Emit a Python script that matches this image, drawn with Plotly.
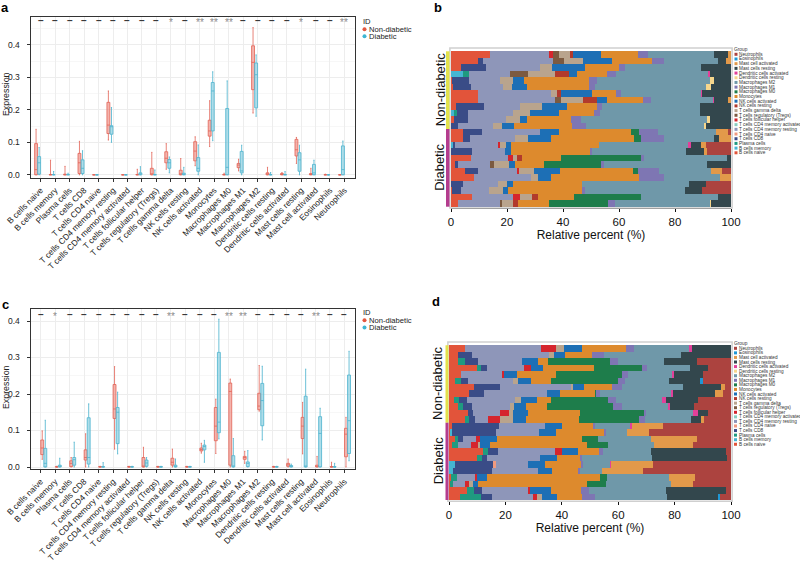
import plotly.graph_objects as go

W, H = 800, 562

# ---------------- categories ----------------
CELL_TYPES = ["B cells naive", "B cells memory", "Plasma cells", "T cells CD8", "T cells CD4 naive",
              "T cells CD4 memory resting", "T cells CD4 memory activated", "T cells follicular helper",
              "T cells regulatory (Tregs)", "T cells gamma delta", "NK cells resting", "NK cells activated",
              "Monocytes", "Macrophages M0", "Macrophages M1", "Macrophages M2", "Dendritic cells resting",
              "Dendritic cells activated", "Mast cells resting", "Mast cell activated", "Eosinophils",
              "Neutrophils"]
GROUPS = ["Non-diabetic", "Diabetic"]

# ---------------- panel a : box statistics ----------------
a_nd_q1 = [0.0, 0, 0, 0.004, 0, 0.127, 0, 0, 0, 0.037, 0, 0.043, 0.119, 0, 0.022, 0.262, 0, 0, 0.058, 0, 0, 0]
a_nd_med = [0.016, 0, 0, 0.037, 0, 0.153, 0, 0, 0.002, 0.051, 0.002, 0.073, 0.135, 0, 0.030, 0.346, 0.002, 0.001, 0.077, 0.001, 0, 0]
a_nd_q3 = [0.096, 0.001, 0.002, 0.066, 0, 0.223, 0, 0.001, 0.020, 0.071, 0.014, 0.102, 0.168, 0.001, 0.035, 0.397, 0.006, 0.004, 0.109, 0.004, 0, 0]
a_nd_lo = [0, 0, 0, 0, 0, 0.107, 0, 0, 0, 0.017, 0, 0.028, 0.087, 0, 0.012, 0.190, 0, 0, 0.035, 0, 0, 0]
a_nd_hi = [0.140, 0.045, 0.026, 0.103, 0, 0.258, 0, 0.017, 0.069, 0.096, 0.050, 0.117, 0.228, 0.005, 0.048, 0.453, 0.023, 0.007, 0.115, 0.020, 0.002, 0]

a_d_q1 = [0.002, 0, 0, 0.004, 0, 0.125, 0, 0, 0, 0.020, 0, 0.011, 0.135, 0, 0.006, 0.206, 0, 0, 0.011, 0, 0, 0]
a_d_med = [0.037, 0, 0, 0.020, 0, 0.148, 0, 0.002, 0, 0.037, 0.001, 0.020, 0.258, 0.023, 0.012, 0.308, 0, 0, 0.046, 0.006, 0, 0.016]
a_d_q3 = [0.056, 0.001, 0.001, 0.046, 0, 0.151, 0, 0.006, 0.001, 0.047, 0.005, 0.053, 0.284, 0.204, 0.072, 0.344, 0.001, 0.001, 0.068, 0.032, 0, 0.089]
a_d_lo = [0, 0, 0, 0, 0, 0.100, 0, 0, 0, 0.006, 0, 0, 0.105, 0, 0, 0.180, 0, 0, 0, 0, 0, 0]
a_d_hi = [0.084, 0.010, 0.005, 0.074, 0, 0.207, 0, 0.025, 0.015, 0.055, 0.023, 0.092, 0.317, 0.289, 0.091, 0.369, 0.007, 0.010, 0.091, 0.045, 0, 0.104]

a_sig = ["–", "–", "–", "–", "–", "–", "–", "–", "–", "*", "–", "**", "**", "**", "–", "–", "–", "–", "*", "–", "–", "**"]

# ---------------- panel c : box statistics ----------------
c_nd_q1 = [0.034, 0, 0.001, 0.019, 0, 0.133, 0, 0, 0, 0.005, 0, 0.044, 0.072, 0.005, 0.021, 0.157, 0, 0.002, 0.078, 0, 0, 0.028]
c_nd_med = [0.052, 0, 0.010, 0.026, 0, 0.159, 0, 0.002, 0, 0.013, 0, 0.048, 0.112, 0.207, 0.026, 0.167, 0, 0.006, 0.112, 0.002, 0, 0.090]
c_nd_q3 = [0.074, 0.001, 0.017, 0.047, 0.001, 0.226, 0.001, 0.026, 0.001, 0.024, 0.001, 0.052, 0.163, 0.230, 0.029, 0.202, 0.001, 0.010, 0.136, 0.005, 0.001, 0.106]
c_nd_lo = [0.021, 0, 0, 0, 0, 0.049, 0, 0, 0, 0, 0, 0.038, 0.037, 0, 0.010, 0.153, 0, 0, 0.036, 0, 0, 0]
c_nd_hi = [0.099, 0.002, 0.026, 0.091, 0.002, 0.275, 0.002, 0.054, 0.002, 0.049, 0.002, 0.065, 0.186, 0.241, 0.043, 0.278, 0.002, 0.022, 0.177, 0.029, 0.013, 0.136]

c_d_q1 = [0, 0, 0.005, 0.008, 0, 0.064, 0, 0.002, 0, 0, 0, 0.047, 0.094, 0, 0.001, 0.113, 0, 0, 0, 0, 0, 0.037]
c_d_med = [0.010, 0.002, 0.020, 0.026, 0, 0.150, 0, 0.011, 0, 0.002, 0, 0.056, 0.123, 0.003, 0.010, 0.182, 0, 0.002, 0.002, 0.092, 0, 0.127]
c_d_q3 = [0.051, 0.005, 0.026, 0.135, 0.001, 0.163, 0.001, 0.019, 0.001, 0.005, 0.001, 0.060, 0.314, 0.031, 0.014, 0.229, 0.001, 0.004, 0.194, 0.138, 0.001, 0.252]
c_d_lo = [0, 0, 0, 0, 0, 0.036, 0, 0, 0, 0, 0, 0.013, 0.077, 0, 0, 0.074, 0, 0, 0, 0, 0, 0.017]
c_d_hi = [0.128, 0.024, 0.068, 0.173, 0.012, 0.205, 0.002, 0.026, 0.002, 0.022, 0.002, 0.073, 0.405, 0.078, 0.045, 0.276, 0.002, 0.008, 0.268, 0.161, 0.010, 0.317]

c_sig = ["–", "*", "–", "–", "–", "–", "–", "–", "–", "**", "–", "–", "–", "**", "**", "–", "–", "–", "–", "**", "–", "–"]

# ---------------- panel b : relative percent per sample (order = CELL_TYPES) ----------------
b_nd_01 = [13.9, 0, 0, 0, 0, 21.1, 0, 1.5, 2.1, 3.8, 1.0, 10.1, 13.3, 0, 3.6, 23.6, 0, 0, 4.8, 1.2, 0, 0]
b_nd_02 = [9.5, 0, 0, 2.0, 0, 25.0, 0, 0, 3.9, 6.8, 0, 10.4, 14.3, 0, 4.3, 19.0, 0, 0, 3.0, 1.8, 0, 0]
b_nd_03 = [3.6, 0, 0, 8.9, 0, 19.3, 0, 0, 0, 4.4, 0, 11.7, 12.1, 0, 2.1, 27.1, 0, 0, 10.8, 0, 0, 0]
b_nd_04 = [0, 4.4, 2.1, 0, 0, 14.5, 0, 0, 6.5, 9.5, 5.0, 3.0, 10.7, 0, 3.1, 33.3, 0, 0.4, 7.5, 0, 0, 0]
b_nd_05 = [0.2, 0, 0, 6.3, 0, 11.0, 0, 0, 0, 4.5, 0, 4.2, 23.1, 0, 2.7, 40.5, 1.5, 0, 6.0, 0, 0, 0]
b_nd_06 = [0.8, 0, 0, 6.3, 0, 11.5, 0, 0, 0, 3.3, 0, 5.4, 21.9, 0, 2.1, 39.9, 1.8, 0, 7.0, 0, 0, 0]
b_nd_07 = [9.5, 0, 0, 0, 0, 26.2, 0, 0, 0, 2.0, 1.5, 11.0, 8.7, 0, 1.7, 28.9, 0, 0.2, 10.3, 0, 0, 0]
b_nd_08 = [9.8, 0, 0, 0, 0, 27.4, 0, 0, 2.1, 7.7, 5.0, 3.8, 12.6, 0, 3.2, 22.0, 0, 0.4, 4.8, 1.2, 0, 0]
b_nd_09 = [1.8, 0, 0, 10.1, 0, 12.7, 0, 0, 0, 8.0, 0, 8.9, 10.5, 0, 2.0, 34.9, 0, 0, 11.1, 0, 0, 0]
b_nd_10 = [0, 1.2, 1.0, 4.0, 0, 16.1, 0, 0, 0, 6.0, 0, 10.1, 12.7, 0, 2.1, 35.7, 0, 0, 11.1, 0, 0, 0]
b_nd_11 = [1.2, 0, 0, 5.0, 0, 13.3, 0, 0, 0, 5.1, 0, 2.7, 15.5, 0, 3.5, 45.0, 1.2, 0, 7.5, 0, 0, 0]
b_nd_12 = [0, 0, 0, 2.6, 0, 12.3, 0, 0, 0, 3.2, 0, 4.4, 20.8, 0, 4.8, 42.6, 0.5, 0, 8.8, 0, 0, 0]
b_d_01 = [4.4, 0, 0, 6.5, 0, 20.8, 0, 0, 0, 0, 0, 6.9, 25.6, 3.0, 6.8, 20.8, 0, 0, 0, 4.0, 0, 1.2]
b_d_02 = [4.4, 0, 0, 2.4, 0, 16.1, 0, 0, 0, 4.5, 0, 8.3, 29.8, 2.4, 8.0, 18.2, 0, 0, 1.7, 4.2, 0, 0]
b_d_03 = [0, 0.8, 0, 0.6, 0, 15.5, 0, 0.6, 0, 2.0, 0, 1.9, 31.4, 0, 0, 31.9, 0, 1.0, 3.6, 1.8, 0, 8.9]
b_d_04 = [0, 0, 0, 7.4, 0, 11.9, 0, 0, 0, 0, 0, 2.1, 28.5, 0, 0.6, 33.3, 0, 0, 6.7, 0.8, 0, 8.7]
b_d_05 = [7.1, 0, 0, 0, 0, 13.1, 0, 2.0, 0, 1.2, 2.0, 0, 13.8, 28.8, 0.8, 29.7, 0, 0, 1.5, 0, 0, 0]
b_d_06 = [1.7, 0, 0, 0.7, 0, 11.5, 0, 0, 1.5, 5.2, 0, 2.1, 10.5, 20.2, 1.2, 36.7, 0, 0, 8.7, 0, 0, 0]
b_d_07 = [5.0, 0, 0, 4.5, 0, 14.3, 0, 0.5, 0, 5.5, 0, 9.2, 26.0, 1.8, 7.6, 18.3, 0, 0, 0, 4.2, 0, 3.1]
b_d_08 = [8.3, 0, 0, 0, 0, 20.2, 0, 0, 0, 2.6, 0, 4.5, 31.5, 0, 8.9, 20.1, 0, 0, 0, 3.9, 0, 0]
b_d_09 = [0, 0, 0, 4.4, 0, 12.5, 0, 0, 0, 3.2, 0, 1.9, 24.9, 0, 0, 38.1, 0, 0, 6.0, 0, 0, 9.0]
b_d_10 = [0.5, 0, 0, 3.1, 0, 10.1, 0, 0, 0, 4.8, 0, 1.7, 26.5, 0, 1.0, 35.7, 0, 0, 6.4, 0, 0, 10.2]
b_d_11 = [7.4, 0, 0, 0, 0, 14.9, 0, 2.4, 0, 4.4, 1.9, 0, 13.1, 23.8, 0, 27.6, 0, 0, 4.5, 0, 0, 0]
b_d_12 = [2.6, 0, 0, 0, 0, 14.9, 0, 0, 0.8, 3.9, 1.8, 0, 11.0, 21.0, 2.5, 34.0, 0.5, 0, 7.0, 0, 0, 0]

# ---------------- panel d : relative percent per sample ----------------
d_nd_01 = [5.7, 0, 0, 0, 0, 26.9, 0, 5.3, 0, 3.0, 0, 6.1, 15.7, 0, 3.0, 19.7, 0, 0.6, 14.0, 0, 0, 0]
d_nd_02 = [3.1, 0, 0, 5.0, 0, 27.4, 0, 0, 0, 1.8, 0, 3.7, 9.7, 0, 4.1, 27.5, 0, 0, 17.7, 0, 0, 0]
d_nd_03 = [3.3, 0, 2.4, 4.5, 0, 15.8, 0, 0, 0, 0, 0, 5.7, 3.5, 21.9, 3.0, 16.0, 0, 0, 11.8, 0, 0, 12.1]
d_nd_04 = [9.8, 0, 1.4, 2.1, 0, 13.2, 0, 2.4, 0, 0, 0, 4.3, 18.3, 16.8, 1.8, 15.4, 0, 0, 6.5, 0, 0, 8.0]
d_nd_05 = [4.3, 0, 0, 0, 0, 14.7, 0, 0.6, 0, 0, 0, 4.5, 13.8, 23.4, 2.1, 15.6, 0, 0.9, 10.3, 0, 0, 9.8]
d_nd_06 = [2.1, 0, 2.1, 2.4, 0, 16.2, 0, 0, 0, 1.5, 0, 4.7, 7.3, 23.6, 2.4, 15.6, 0, 0, 11.2, 0, 0.9, 10.0]
d_nd_07 = [9.0, 0, 0, 9.1, 0, 25.4, 0, 0, 0, 0.6, 0, 3.9, 9.7, 0, 3.8, 21.6, 0, 0, 13.4, 1.4, 0, 2.1]
d_nd_08 = [7.1, 0, 0, 5.4, 0, 22.1, 0, 0, 0, 0, 0, 4.7, 12.6, 0.4, 1.2, 25.4, 0, 0.6, 14.8, 3.0, 0, 2.7]
d_nd_09 = [1.9, 0, 1.7, 2.7, 0, 17.1, 0, 0, 0, 2.1, 0, 5.6, 5.1, 20.3, 2.6, 16.5, 0, 1.5, 11.2, 0, 0, 11.7]
d_nd_10 = [3.1, 0, 1.7, 3.5, 0, 13.4, 0, 0, 0, 1.5, 0, 4.1, 7.3, 23.6, 3.0, 16.3, 0, 0.8, 8.6, 0, 0, 13.1]
d_nd_11 = [6.6, 0, 0, 2.0, 0, 9.5, 0, 3.3, 0, 1.4, 0, 5.3, 18.3, 23.0, 0.6, 16.5, 0, 1.8, 3.5, 0, 0, 8.2]
d_nd_12 = [5.7, 0, 1.4, 2.1, 0, 4.7, 0, 4.1, 0, 4.7, 0, 4.5, 18.8, 21.3, 2.1, 16.5, 0, 0, 3.5, 0.9, 0, 9.7]
d_d_01 = [0.9, 0, 0, 16.8, 0, 16.5, 0, 0, 0, 0, 0, 5.9, 11.3, 0, 0.5, 12.5, 0, 0.4, 0, 11.2, 0, 24.0]
d_d_02 = [0.4, 0.6, 0, 15.5, 0, 15.5, 0, 0, 0, 0, 0, 6.0, 17.0, 0, 0.5, 7.5, 0, 0, 0, 8.0, 0, 29.0]
d_d_03 = [2.1, 0, 1.2, 1.8, 0, 4.4, 0, 1.5, 0, 0, 0, 5.9, 30.4, 5.4, 0, 19.1, 0, 0, 0, 16.0, 0, 12.2]
d_d_04 = [1.2, 0, 1.9, 0, 0, 4.7, 0, 2.4, 0, 0.8, 0, 3.5, 34.3, 7.7, 0, 16.3, 0, 0, 0, 13.8, 0, 13.4]
d_d_05 = [12.2, 0, 1.5, 3.5, 0, 20.3, 0, 2.4, 0, 0, 0, 5.7, 7.6, 0, 1.5, 17.1, 0, 0, 26.3, 0, 0, 1.9]
d_d_06 = [9.8, 0, 1.8, 1.8, 0, 18.9, 0, 0, 0, 0, 0, 5.9, 8.3, 0, 0.8, 24.6, 0, 0, 26.6, 0, 0, 1.5]
d_d_07 = [0, 2.1, 0, 13.6, 0.8, 11.6, 0, 0, 0, 0, 0, 5.9, 13.0, 0, 0.6, 9.5, 0, 0.4, 0, 15.0, 0, 27.5]
d_d_08 = [0, 1.5, 0, 13.6, 0, 16.3, 0, 0, 0, 0, 0, 5.2, 9.2, 0, 0.6, 7.7, 0, 0, 0, 14.8, 0, 31.1]
d_d_09 = [0.7, 0, 2.0, 0, 0, 6.7, 0, 0.7, 0, 0, 0, 3.2, 40.2, 2.4, 0, 22.1, 0, 0, 0, 9.2, 0, 12.8]
d_d_10 = [0.3, 0, 1.2, 0, 0, 4.0, 0, 1.6, 0, 1.4, 0, 1.8, 38.5, 7.0, 0, 22.8, 0, 0, 0, 8.0, 0, 13.4]
d_d_11 = [6.3, 0, 2.7, 2.6, 0, 16.3, 0, 0.8, 0, 0, 0, 7.4, 10.6, 0, 2.8, 27.5, 0, 0, 21.3, 0, 0, 1.7]
d_d_12 = [3.9, 0, 7.4, 4.0, 0, 14.6, 0, 1.2, 0, 1.8, 0, 5.3, 9.1, 0, 4.3, 25.6, 0, 0, 18.1, 0, 0.8, 3.9]

B_ROWS = [b_nd_01, b_nd_02, b_nd_03, b_nd_04, b_nd_05, b_nd_06, b_nd_07, b_nd_08, b_nd_09, b_nd_10, b_nd_11, b_nd_12,
          b_d_01, b_d_02, b_d_03, b_d_04, b_d_05, b_d_06, b_d_07, b_d_08, b_d_09, b_d_10, b_d_11, b_d_12]
D_ROWS = [d_nd_01, d_nd_02, d_nd_03, d_nd_04, d_nd_05, d_nd_06, d_nd_07, d_nd_08, d_nd_09, d_nd_10, d_nd_11, d_nd_12,
          d_d_01, d_d_02, d_d_03, d_d_04, d_d_05, d_d_06, d_d_07, d_d_08, d_d_09, d_d_10, d_d_11, d_d_12]
N_ND = 12

# ---------------- styles ----------------
CELL_COLORS = ["#E2543A", "#45B5D2", "#1F9A80", "#3A4C87", "#F19A7F", "#8E96B9", "#88CEC0", "#D5252D",
               "#7C5A40", "#B9A48D", "#B23A2C", "#1D6FB5", "#DD8A2D", "#1E7D4B", "#7E76B3", "#6F98A9",
               "#F6D68C", "#E2409A", "#33474D", "#E2994A", "#1F97D5", "#AC433F"]
RED_LINE, RED_FILL, RED_DOT = "rgba(226,100,88,0.8)", "rgba(236,128,116,0.6)", "#E4573F"
BLUE_LINE, BLUE_FILL, BLUE_DOT = "rgba(84,182,208,0.85)", "rgba(118,198,219,0.6)", "#3DB6D3"
FONT = "Arial"


def px(x):
    return x / W


def py(y):
    return 1 - y / H


fig = go.Figure()


def paper_text(x, y, text, size, color="#222222", xanchor="left", angle=0):
    fig.add_annotation(x=px(x), y=py(y), xref="paper", yref="paper", text=text, showarrow=False,
                       xanchor=xanchor, yanchor="middle", textangle=angle, borderpad=0,
                       font=dict(size=size, color=color, family=FONT))


# ---------------- box plots ----------------
box_sets = [
    ("x", "y", (a_nd_q1, a_nd_med, a_nd_q3, a_nd_lo, a_nd_hi), (a_d_q1, a_d_med, a_d_q3, a_d_lo, a_d_hi)),
    ("x3", "y3", (c_nd_q1, c_nd_med, c_nd_q3, c_nd_lo, c_nd_hi), (c_d_q1, c_d_med, c_d_q3, c_d_lo, c_d_hi)),
]
for xa, ya, nd, dd in box_sets:
    for stats, name, lc, fc in [(nd, GROUPS[0], RED_LINE, RED_FILL), (dd, GROUPS[1], BLUE_LINE, BLUE_FILL)]:
        q1, med, q3, lo, hi = stats
        fig.add_trace(go.Box(x=CELL_TYPES, q1=q1, median=med, q3=q3, lowerfence=lo, upperfence=hi,
                             name=name, xaxis=xa, yaxis=ya, boxpoints=False,
                             line=dict(color=lc, width=1), fillcolor=fc, whiskerwidth=0.4,
                             showlegend=False, hoverinfo="skip"))

# ---------------- stacked bars ----------------
for rows, xa, ya in [(B_ROWS, "x2", "y2"), (D_ROWS, "x4", "y4")]:
    totals = [sum(r) for r in rows]
    for j, ct in enumerate(CELL_TYPES):
        vals = [r[j] / t * 100 for r, t in zip(rows, totals)]
        fig.add_trace(go.Bar(x=vals, y=list(range(len(rows))), orientation="h", width=1,
                             marker=dict(color=CELL_COLORS[j], line=dict(width=0)),
                             name=ct, xaxis=xa, yaxis=ya, showlegend=False, hoverinfo="skip"))

# ---------------- axes ----------------
box_x_common = dict(type="category", range=[-0.69, 21.73], showline=True, mirror=True, linecolor="#333333",
                    linewidth=1.3, ticks="outside", ticklen=3, tickcolor="#333333", tickangle=-45,
                    tickfont=dict(size=8.4, color="#222222", family=FONT), showgrid=True, gridcolor="#ededed",
                    zeroline=False, automargin=False)
box_y_common = dict(showline=True, mirror=True, linecolor="#333333", linewidth=1.3, ticks="outside",
                    ticklen=3, tickcolor="#333333", tickfont=dict(size=8.5, color="#222222", family=FONT),
                    tickvals=[0, 0.1, 0.2, 0.3, 0.4], ticktext=["0.0", "0.1", "0.2", "0.3", "0.4"],
                    showgrid=True, gridcolor="#ededed", zeroline=False, ticklabelstandoff=5, automargin=False,
                    minor=dict(dtick=0.05, showgrid=True, gridcolor="#f7f7f7", tick0=0.05))

bar_x_common = dict(range=[0, 100], tickvals=[0, 20, 40, 60, 80, 100], ticks="outside", ticklen=3,
                    tickcolor="#111111", showline=True, linecolor="#111111", linewidth=1, showgrid=False,
                    zeroline=False, tickfont=dict(size=11.5, color="#111111", family=FONT), automargin=False,
                    title=dict(text="Relative percent (%)", font=dict(size=12, color="#111111", family=FONT),
                               standoff=0))
bar_y_common = dict(range=[23.7, -1.01], visible=False, showgrid=False, zeroline=False, automargin=False)

fig.update_layout(
    width=W, height=H, margin=dict(l=0, r=0, t=0, b=0, autoexpand=False),
    paper_bgcolor="white", plot_bgcolor="white",
    font=dict(family=FONT, color="#222222"),
    barmode="stack", bargap=0, boxmode="group", boxgap=0.15, boxgroupgap=0.05,
    xaxis=dict(domain=[px(30.7), px(355)], anchor="y", **box_x_common),
    yaxis=dict(domain=[py(178), py(16.7)], anchor="x", range=[-0.0098, 0.4865], **box_y_common),
    xaxis3=dict(domain=[px(30.7), px(355)], anchor="y3", **box_x_common),
    yaxis3=dict(domain=[py(469.3), py(308.7)], anchor="x3", range=[-0.0063, 0.4337], **box_y_common),
    xaxis2=dict(domain=[px(451), px(731)], anchor="y2", **bar_x_common),
    yaxis2=dict(domain=[py(208), py(48)], anchor="x2", **bar_y_common),
    xaxis4=dict(domain=[px(449), px(731)], anchor="y4", **bar_x_common),
    yaxis4=dict(domain=[py(501.3), py(342)], anchor="x4", **bar_y_common),
)

# ---------------- significance labels ----------------
for sig, xa, ya, yv in [(a_sig, "x", "y", 0.474), (c_sig, "x3", "y3", 0.419)]:
    for cat, s in zip(CELL_TYPES, sig):
        dash = s == "–"
        fig.add_annotation(x=cat, y=yv, xref=xa, yref=ya, text=("<b>–</b>" if dash else s), showarrow=False,
                           xanchor="center", yanchor="middle",
                           font=dict(size=10, color="#3a3a3a" if dash else "#8a8a8a", family=FONT),
                           yshift=0 if dash else -2)

# ---------------- panel letters & axis titles ----------------
for letter, x, y in [("a", 5, 8), ("b", 438, 8), ("c", 5, 304), ("d", 436, 301)]:
    paper_text(x, y, f"<b>{letter}</b>", 13, "#000000", xanchor="center")
for y in [94, 387]:
    paper_text(6, y, "Expression", 8.8, xanchor="center", angle=-90)

# ---------------- ID legends (box panels) ----------------
for y_title, y1, y2 in [(21, 29.3, 36.2), (312.7, 320.2, 327.6)]:
    paper_text(361.5, y_title, "ID", 7.6)
    for yy, col, name in [(y1, RED_DOT, GROUPS[0]), (y2, BLUE_DOT, GROUPS[1])]:
        fig.add_shape(type="circle", xref="paper", yref="paper", x0=px(362.5), x1=px(366.5), y0=py(yy + 2),
                      y1=py(yy - 2), fillcolor=col, line=dict(width=0))
        paper_text(368, yy, name, 7.6)

# ---------------- bar panel decorations ----------------
STRIP_COLORS = ["#E3E24C", "#B43C8E"]
for xa, ya, x0, x1, ylab_x in [("x2", "y2", 446, 449.5, 440), ("x4", "y4", 445.5, 448.5, 438)]:
    fig.add_shape(type="rect", xref=f"{xa} domain", yref=f"{ya} domain", x0=-0.004, x1=1.004, y0=0, y1=1,
                  line=dict(color="#cfcfcf", width=1.5), fillcolor="rgba(0,0,0,0)", layer="above")
    for k, (r0, r1) in enumerate([(-0.5, N_ND - 0.5), (N_ND - 0.5, 23.5)]):
        fig.add_shape(type="rect", xref="paper", yref=ya, x0=px(x0), x1=px(x1), y0=r0, y1=r1,
                      fillcolor=STRIP_COLORS[k], line=dict(width=0))
        fig.add_annotation(x=px(ylab_x), y=(r0 + r1) / 2, xref="paper", yref=ya, text=GROUPS[k],
                           textangle=-90, showarrow=False, xanchor="center", yanchor="middle",
                           font=dict(size=13, color="#111111", family=FONT))

# ---------------- manual "Group" legends ----------------
for top, step, left in [(54.3, 4.69, 734.5), (348.3, 4.57, 734.0)]:
    paper_text(left - 1.5, top - 4.6, "Group", 4.8, "#333333")
    for i, j in enumerate(range(len(CELL_TYPES) - 1, -1, -1)):
        yc = top + i * step
        fig.add_shape(type="rect", xref="paper", yref="paper", x0=px(left), x1=px(left + 3),
                      y0=py(yc + 1.5), y1=py(yc - 1.5), fillcolor=CELL_COLORS[j], line=dict(width=0))
        paper_text(left + 3.8, yc, CELL_TYPES[j], 4.7, "#333333")

fig.write_html("out.html", config={"displayModeBar": False},
               post_script="document.body.style.margin='0';document.body.style.padding='0';"
                           "document.body.style.overflow='hidden';")
